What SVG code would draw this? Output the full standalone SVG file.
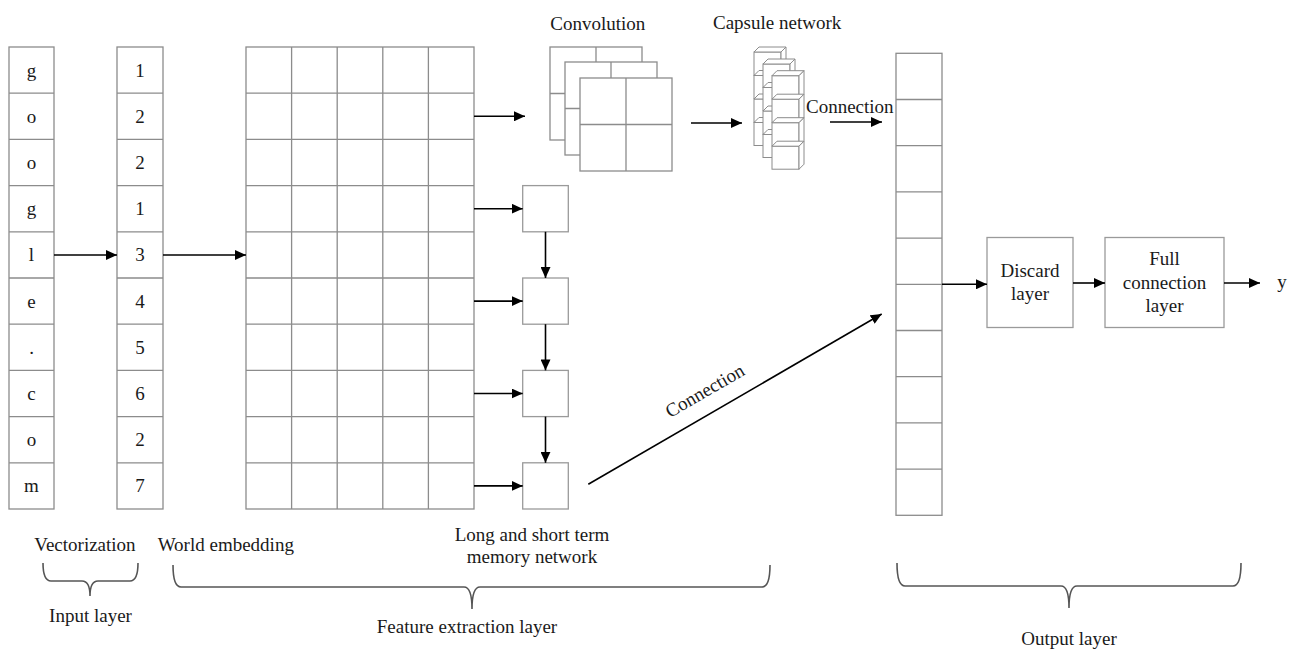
<svg xmlns="http://www.w3.org/2000/svg" width="1296" height="650" viewBox="0 0 1296 650">
<style>
.t{font-family:"Liberation Serif","Times New Roman",serif;font-size:19px;fill:#1a1a1a}
.m{text-anchor:middle}
.cell{fill:#fff;stroke:#8c8c8c;stroke-width:1.3}
.div{fill:none;stroke:#8c8c8c;stroke-width:1.3}
.box{fill:#fff;stroke:#9a9a9a;stroke-width:1.3}
.arr{fill:none;stroke:#000;stroke-width:1.6;marker-end:url(#ah)}
.brace{fill:none;stroke:#555;stroke-width:1.6}
.cube{fill:#fff;stroke:#8c8c8c;stroke-width:1}
</style>
<defs>
<marker id="ah" markerWidth="11" markerHeight="10" refX="11" refY="5" orient="auto" markerUnits="userSpaceOnUse"><path d="M0,0 L11,5 L0,10 z" fill="#000"/></marker>
<g id="cube">
<rect class="cube" x="0" y="5" width="27" height="23"/>
<path class="cube" d="M0,5 L5,0 L32,0 L27,5 Z"/>
<path class="cube" d="M27,5 L32,0 L32,23 L27,28 Z"/>
</g>
</defs>
<rect width="1296" height="650" fill="#fff"/>

<g id="input-column">
<rect class="cell" x="9" y="47" width="45" height="462"/>
<path class="div" d="M9,93.2H54M9,139.4H54M9,185.6H54M9,231.8H54M9,278H54M9,324.2H54M9,370.4H54M9,416.6H54M9,462.8H54"/>
<g class="t m">
<text x="31.5" y="76.6">g</text><text x="31.5" y="122.8">o</text><text x="31.5" y="169">o</text><text x="31.5" y="215.2">g</text><text x="31.5" y="261.4">l</text><text x="31.5" y="307.6">e</text><text x="31.5" y="353.8">.</text><text x="31.5" y="400">c</text><text x="31.5" y="446.2">o</text><text x="31.5" y="492.4">m</text>
</g>
</g>

<g id="vector-column">
<rect class="cell" x="117" y="47" width="46" height="462"/>
<path class="div" d="M117,93.2H163M117,139.4H163M117,185.6H163M117,231.8H163M117,278H163M117,324.2H163M117,370.4H163M117,416.6H163M117,462.8H163"/>
<g class="t m">
<text x="140" y="76.6">1</text><text x="140" y="122.8">2</text><text x="140" y="169">2</text><text x="140" y="215.2">1</text><text x="140" y="261.4">3</text><text x="140" y="307.6">4</text><text x="140" y="353.8">5</text><text x="140" y="400">6</text><text x="140" y="446.2">2</text><text x="140" y="492.4">7</text>
</g>
</g>

<g id="embedding-grid">
<rect class="cell" x="246" y="47" width="228" height="462"/>
<path class="div" d="M246,93.2H474M246,139.4H474M246,185.6H474M246,231.8H474M246,278H474M246,324.2H474M246,370.4H474M246,416.6H474M246,462.8H474M291.6,47V509M337.2,47V509M382.8,47V509M428.4,47V509"/>
</g>

<g id="convolution">
<rect class="cell" x="550" y="47" width="92" height="93"/>
<path class="div" d="M596,47V140M550,93.5H642"/>
<rect class="cell" x="565" y="62" width="92" height="93"/>
<path class="div" d="M611,62V155M565,108.5H657"/>
<rect class="cell" x="580" y="78" width="92" height="93"/>
<path class="div" d="M626,78V171M580,124.5H672"/>
</g>

<g id="capsule-network">
<use href="#cube" x="754" y="47"/><use href="#cube" x="754" y="70.5"/><use href="#cube" x="754" y="94"/><use href="#cube" x="754" y="117.5"/>
<use href="#cube" x="763" y="59"/><use href="#cube" x="763" y="82.5"/><use href="#cube" x="763" y="106"/><use href="#cube" x="763" y="129.5"/>
<use href="#cube" x="772" y="70.7"/><use href="#cube" x="772" y="94.2"/><use href="#cube" x="772" y="117.7"/><use href="#cube" x="772" y="141.2"/>
</g>

<g id="lstm-1"><rect class="box" x="522.7" y="185.6" width="45.6" height="46.2"/></g>
<g id="lstm-2"><rect class="box" x="522.7" y="278" width="45.6" height="46.2"/></g>
<g id="lstm-3"><rect class="box" x="522.7" y="370.4" width="45.6" height="46.2"/></g>
<g id="lstm-4"><rect class="box" x="522.7" y="462.8" width="45.6" height="46.2"/></g>

<g id="output-column">
<rect class="cell" x="896" y="53.3" width="46" height="462"/>
<path class="div" d="M896,99.5H942M896,145.7H942M896,191.9H942M896,238.1H942M896,284.3H942M896,330.5H942M896,376.7H942M896,422.9H942M896,469.1H942"/>
</g>

<g id="discard-layer">
<rect class="box" x="987" y="237.5" width="86" height="90"/>
<text class="t m" x="1030" y="277">Discard</text>
<text class="t m" x="1030" y="300">layer</text>
</g>

<g id="full-connection-layer">
<rect class="box" x="1105" y="237.5" width="119" height="90"/>
<text class="t m" x="1164.5" y="265">Full</text>
<text class="t m" x="1164.5" y="289">connection</text>
<text class="t m" x="1164.5" y="312">layer</text>
</g>

<g id="output-y"><text class="t m" x="1282" y="288">y</text></g>

<g id="connectors">
<path class="arr" d="M54,255H117"/>
<path class="arr" d="M163,255H246"/>
<path class="arr" d="M474,116.3H525"/>
<path class="arr" d="M474,208.7H522.7"/>
<path class="arr" d="M474,301.1H522.7"/>
<path class="arr" d="M474,393.5H522.7"/>
<path class="arr" d="M474,485.9H522.7"/>
<path class="arr" d="M545.5,231.8V278"/>
<path class="arr" d="M545.5,324.2V370.4"/>
<path class="arr" d="M545.5,416.6V462.8"/>
<path class="arr" d="M691,123H742"/>
<path class="arr" d="M830,122H882"/>
<path class="arr" d="M588.3,484.3L881.7,314"/>
<path class="arr" d="M942,284.3H987"/>
<path class="arr" d="M1073,283H1105"/>
<path class="arr" d="M1224,283H1260"/>
<text class="t" x="806" y="113">Connection</text>
<text class="t m" transform="translate(705,391) rotate(-30.1)" y="6">Connection</text>
</g>

<g id="labels">
<text class="t m" x="597.8" y="29.5">Convolution</text>
<text class="t" x="713" y="28.5">Capsule network</text>
<text class="t" x="34.3" y="551">Vectorization</text>
<text class="t" x="157.7" y="551">World embedding</text>
<text class="t m" x="532" y="541">Long and short term</text>
<text class="t m" x="532" y="563">memory network</text>
<text class="t m" x="90.5" y="622">Input layer</text>
<text class="t m" x="467" y="633">Feature extraction layer</text>
<text class="t m" x="1069" y="645">Output layer</text>
</g>

<g id="braces">
<path class="brace" d="M43,563Q43,581 51,581L82,581Q90,581 90,596Q90,581 98,581L130,581Q138,581 138,563"/>
<path class="brace" d="M173,565Q173,587 181,587L464,587Q472,587 472,609Q472,587 480,587L762,587Q770,587 770,565"/>
<path class="brace" d="M897,563Q897,586 905,586L1061,586Q1069,586 1069,608Q1069,586 1077,586L1233,586Q1241,586 1241,563"/>
</g>
</svg>
